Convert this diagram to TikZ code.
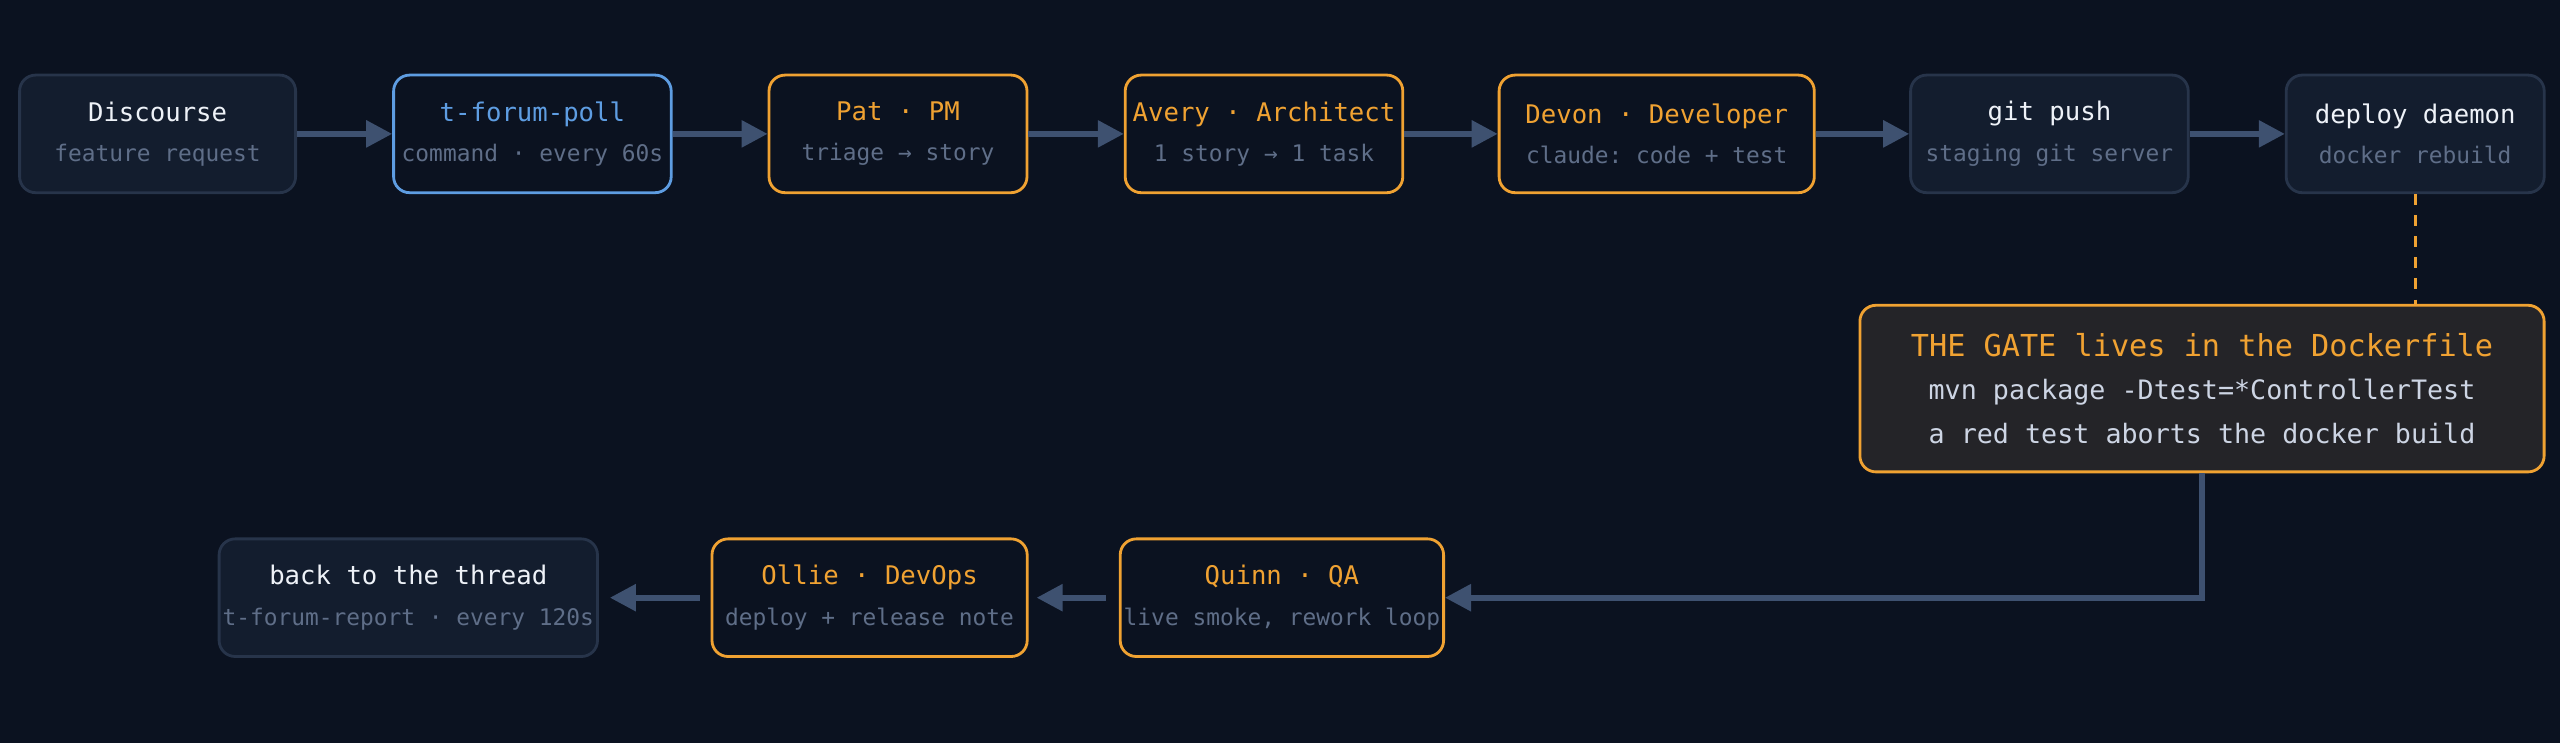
\documentclass[tikz,border=0pt]{standalone}
\usepackage{fontspec}
\setmonofont{DejaVu Sans Mono}
\usetikzlibrary{arrows.meta,positioning}
\definecolor{bgc}{HTML}{0B1220}
\definecolor{boxfill}{HTML}{131D2E}
\definecolor{boxline}{HTML}{27344A}
\definecolor{orng}{HTML}{F0A232}
\definecolor{blu}{HTML}{5E9DE2}
\definecolor{arr}{HTML}{3E5170}
\definecolor{subc}{HTML}{5F6E88}
\definecolor{ttl}{HTML}{EEF2F8}
\definecolor{gatefill}{HTML}{242428}
\definecolor{gatetxt}{HTML}{CDD5E4}
\tikzset{
  base/.style={rounded corners=0.16cm, minimum height=1.176cm, inner sep=1pt, line width=0.8pt, align=center,
    font=\ttfamily\fontsize{7}{11.5}\selectfont},
  quiet/.style={base, draw=boxline, fill=boxfill},
  role/.style={base, draw=orng, fill=bgc},
  poll/.style={base, draw=blu, fill=bgc},
  flow/.style={draw=arr, line width=1.6pt, -{Triangle[length=0.26cm,width=0.26cm]}}
}
\newcommand{\ttl}[2]{{\fontsize{7.3}{11.5}\selectfont\color{#1}#2}\\}
\newcommand{\sub}[1]{{\fontsize{6.5}{11.5}\selectfont\color{subc}#1}}
\begin{document}
\begin{tikzpicture}
    \fill[bgc] (0,0) rectangle (25.6,-7.43);
    \useasboundingbox (0,0) rectangle (25.6,-7.43);
    % first row
    \node[quiet, minimum width=2.76cm] (disc) at (1.576,-1.339) {\ttl{ttl}{Discourse}\sub{feature request}};
    \node[poll, minimum width=2.776cm] (poll) at (5.324,-1.339) {\ttl{blu}{t-forum-poll}\sub{command · every 60s}};
    \node[role, minimum width=2.58cm] (pat) at (8.98,-1.339) {\ttl{orng}{Pat · PM}\sub{triage → story}};
    \node[role, minimum width=2.776cm] (avery) at (12.64,-1.339) {\ttl{orng}{Avery · Architect}\sub{1 story → 1 task}};
    \node[role, minimum width=3.152cm] (devon) at (16.567,-1.339) {\ttl{orng}{Devon · Developer}\sub{claude: code + test}};
    \node[quiet, minimum width=2.776cm] (push) at (20.494,-1.339) {\ttl{ttl}{git push}\sub{staging git server}};
    \node[quiet, minimum width=2.58cm] (daemon) at (24.152,-1.339) {\ttl{ttl}{deploy daemon}\sub{docker rebuild}};
    % the gate
    \node[base, draw=orng, fill=gatefill, minimum width=6.842cm, minimum height=1.666cm,
      font=\ttfamily\fontsize{7.6}{12.5}\selectfont] (gate) at (22.02,-3.886)
      {{\fontsize{8.6}{12.5}\selectfont\color{orng}THE GATE lives in the Dockerfile}\\
       {\color{gatetxt}mvn package -Dtest=*ControllerTest}\\
       {\color{gatetxt}a red test aborts the docker build}};
    % second row
    \node[role, minimum width=3.135cm] (quinn) at (12.819,-5.977) {\ttl{orng}{Quinn · QA}\sub{live smoke, rework loop}};
    \node[role, minimum width=3.152cm] (ollie) at (8.696,-5.977) {\ttl{orng}{Ollie · DevOps}\sub{deploy + release note}};
    \node[quiet, minimum width=3.69cm] (back) at (4.083,-5.977) {\ttl{ttl}{back to the thread}\sub{t-forum-report · every 120s}};
    % connectors
    \draw[flow] (disc) -- (poll);
    \draw[flow] (poll) -- (pat);
    \draw[flow] (pat) -- (avery);
    \draw[flow] (avery) -- (devon);
    \draw[flow] (devon) -- (push);
    \draw[flow] (push) -- (daemon);
    \draw[orng, line width=0.8pt, dash pattern=on 3pt off 3pt] (daemon) -- (daemon |- gate.north);
    \draw[flow] (gate.south) |- (quinn);
    \draw[flow, shorten <=0.13cm, shorten >=0.08cm] (quinn) -- (ollie);
    \draw[flow, shorten <=0.11cm, shorten >=0.11cm] (ollie) -- (back);
\end{tikzpicture}
\end{document}
